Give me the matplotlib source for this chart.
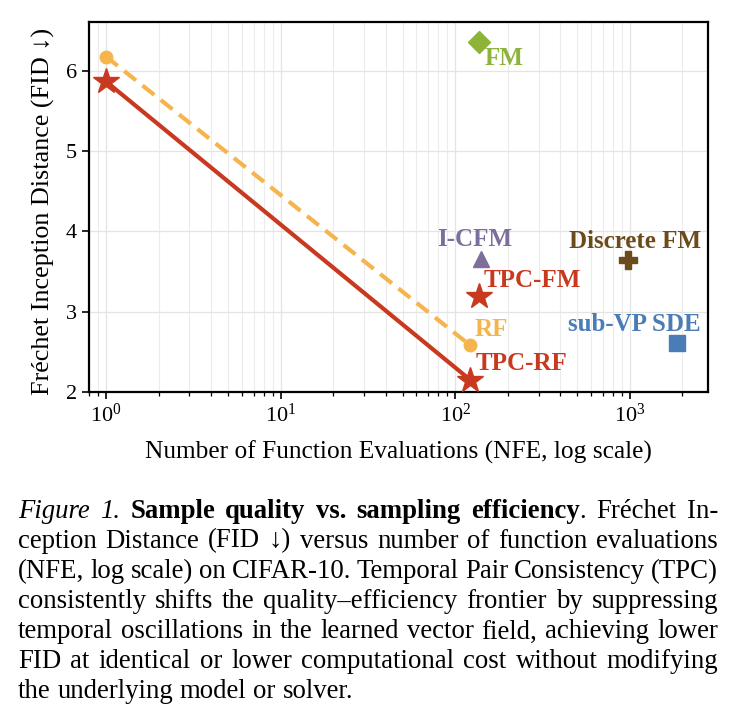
import numpy as np
import matplotlib
matplotlib.use("Agg")
import matplotlib.pyplot as plt
from matplotlib.ticker import LogLocator, NullFormatter

SERIF = ["Liberation Serif", "DejaVu Serif"]
plt.rcParams["font.family"] = SERIF
plt.rcParams["mathtext.fontset"] = "custom"
plt.rcParams["mathtext.rm"] = "Liberation Serif"
plt.rcParams["mathtext.it"] = "Liberation Serif:italic"

# frontier lines (NFE, FID)
rf_nfe = [1, 122]
rf_fid = [6.18, 2.58]
tpc_rf_nfe = [1, 122]
tpc_rf_fid = [5.87, 2.15]

# single methods
methods = ["FM", "I-CFM", "TPC-FM", "Discrete FM", "sub-VP SDE"]
method_nfe = [137, 141, 137, 970, 1850]
method_fid = [6.36, 3.66, 3.20, 3.64, 2.61]

RED = "#c8391f"
ORANGE = "#f5b54c"
colors = {"FM": "#8db33a", "I-CFM": "#7d6f9c", "TPC-FM": RED,
          "Discrete FM": "#6b4a1c", "sub-VP SDE": "#4a7db5"}
markers = {"FM": "D", "I-CFM": "^", "TPC-FM": "*", "Discrete FM": "P", "sub-VP SDE": "s"}
msizes = {"FM": 11, "I-CFM": 12, "TPC-FM": 19, "Discrete FM": 13, "sub-VP SDE": 12}
# label offsets in pixels from the marker (x right, y up) and horizontal alignment
label_pos = {"FM": (5, -16, "left"), "I-CFM": (-7, 19, "center"),
             "TPC-FM": (5, 15, "left"), "Discrete FM": (7, 19, "center"),
             "sub-VP SDE": (-42, 19, "center")}
PX = 72 / 100  # points per pixel
LABEL_FS = 18

W, H = 739, 719
fig = plt.figure(figsize=(W / 100, H / 100), dpi=100)
ax = fig.add_axes([89 / W, 1 - 392 / H, (708 - 89) / W, (392 - 22) / H])

ax.plot(rf_nfe, rf_fid, "--", color=ORANGE, lw=3, dashes=(3.6, 2.0), zorder=3)
ax.plot(rf_nfe, rf_fid, "o", color=ORANGE, ms=9, zorder=4)
ax.plot(tpc_rf_nfe, tpc_rf_fid, "-", color=RED, lw=3, zorder=3)
ax.plot(tpc_rf_nfe, tpc_rf_fid, "*", color=RED, ms=19, zorder=5)

for m, x, y in zip(methods, method_nfe, method_fid):
    ax.plot(x, y, markers[m], color=colors[m], ms=msizes[m], zorder=5)
    dx, dy, ha = label_pos[m]
    ax.annotate(m, (x, y), xytext=(dx * PX, dy * PX), textcoords="offset points",
                ha=ha, va="center", color=colors[m], fontsize=LABEL_FS, fontweight="bold")

ax.annotate("RF", (rf_nfe[1], rf_fid[1]), xytext=(4 * PX, 16 * PX), textcoords="offset points",
            ha="left", va="center", color=ORANGE, fontsize=LABEL_FS, fontweight="bold")
ax.annotate("TPC-RF", (tpc_rf_nfe[1], tpc_rf_fid[1]), xytext=(5 * PX, 16 * PX),
            textcoords="offset points", ha="left", va="center", color=RED,
            fontsize=LABEL_FS, fontweight="bold")

ax.set_xscale("log")
ax.set_xlim(0.8, 2800)
ax.set_ylim(2.0, 6.61)
ax.set_yticks([2, 3, 4, 5, 6])
ax.xaxis.set_minor_locator(LogLocator(base=10, subs=np.arange(2, 10)))
ax.xaxis.set_minor_formatter(NullFormatter())
ax.grid(True, which="major", color="#e4e4e4", lw=0.9)
ax.grid(True, which="minor", axis="x", color="#ececec", lw=0.8)
ax.set_axisbelow(True)
for s in ax.spines.values():
    s.set_linewidth(1.6)
ax.tick_params(labelsize=16, length=5, width=1.2)
ax.tick_params(which="minor", length=3, width=0.9)
ax.set_xlabel("Number of Function Evaluations (NFE, log scale)", fontsize=18.3, labelpad=10)
ax.set_ylabel("Fréchet Inception Distance (FID \u2193)", fontsize=18.8)
ax.yaxis.set_label_coords(-34 / (708 - 89), 0.5 - 4 / 370)

# caption, justified line by line
cap_lines = [
    [[("Figure", "italic")], [("1.", "italic")], [("Sample", "bold")], [("quality", "bold")],
     [("vs.", "bold")], [("sampling", "bold")], [("efficiency", "bold"), (".", "normal")],
     [("Fréchet", "normal")], [("In-", "normal")]],
    "ception Distance (FID \u2193) versus number of function evaluations",
    "(NFE, log scale) on CIFAR-10. Temporal Pair Consistency (TPC)",
    "consistently shifts the quality\u2013efficiency frontier by suppressing",
    "temporal oscillations in the learned vector field, achieving lower",
    "FID at identical or lower computational cost without modifying",
    "the underlying model or solver.",
]
cap_y = [511, 541, 572, 602, 632, 662, 692]
x_left, x_right = 18, 718
CAP_FS = 19.3

renderer = fig.canvas.get_renderer()


def seg_kw(style):
    if style == "italic":
        return dict(fontstyle="italic")
    if style == "bold":
        return dict(fontweight="bold")
    return {}


def width_px(s, style):
    t = fig.text(0, 0, s, fontsize=CAP_FS, **seg_kw(style))
    w = t.get_window_extent(renderer).width
    t.remove()
    return w


space_w = width_px("a b", "normal") - width_px("ab", "normal")

for i, (line, ypx) in enumerate(zip(cap_lines, cap_y)):
    if isinstance(line, str):
        words = [[(w, "normal")] for w in line.split(" ")]
    else:
        words = line
    widths = [sum(width_px(s, st) for s, st in w) for w in words]
    last = i == len(cap_lines) - 1
    gap = space_w if last else (x_right - x_left - sum(widths)) / (len(words) - 1)
    x = x_left
    for w, ww in zip(words, widths):
        xs = x
        for s, st in w:
            fig.text(xs / W, 1 - ypx / H, s, fontsize=CAP_FS, va="center", ha="left", **seg_kw(st))
            xs += width_px(s, st)
        x += ww + gap

fig.savefig("out.png", dpi=100)
